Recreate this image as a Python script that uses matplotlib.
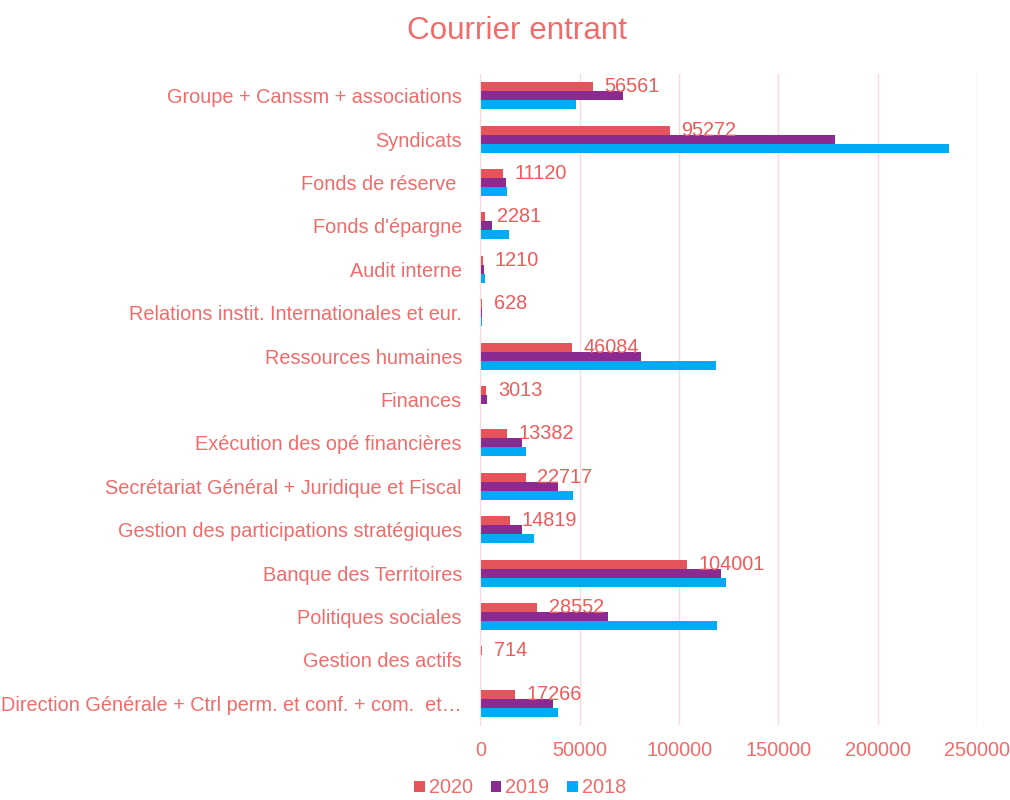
import numpy as np
import matplotlib
matplotlib.use("Agg")
import matplotlib.pyplot as plt

plt.rcParams['font.family'] = ['Liberation Sans', 'DejaVu Sans']

# Categories, top to bottom as shown
categories = [
    "Groupe + Canssm + associations",
    "Syndicats",
    "Fonds de réserve ",
    "Fonds d'épargne",
    "Audit interne",
    "Relations instit. Internationales et eur.",
    "Ressources humaines",
    "Finances",
    "Exécution des opé financières",
    "Secrétariat Général + Juridique et Fiscal",
    "Gestion des participations stratégiques",
    "Banque des Territoires",
    "Politiques sociales",
    "Gestion des actifs",
    "Direction Générale + Ctrl perm. et conf. + com.  et…",
]

vals_2020 = [56561, 95272, 11120, 2281, 1210, 628, 46084, 3013,
             13382, 22717, 14819, 104001, 28552, 714, 17266]
vals_2019 = [71900, 178700, 13000, 5900, 2000, 1000, 80700, 3200,
             20800, 39200, 21000, 121200, 64300, 0, 36700]
vals_2018 = [48300, 235800, 13200, 14200, 2200, 800, 118800, 0,
             22900, 46600, 26800, 123600, 119200, 0, 38900]

years = ["2020", "2019", "2018"]
colors = ["#E5535B", "#8B2A91", "#00AAF5"]
text_color = "#F26B6B"
grid_color = "#FBDADD"
fs = 14.3

fig = plt.figure(figsize=(10.1, 8), dpi=100)
ax = fig.add_axes([0.4757, 0.09375, 0.4916, 0.81375])

y = np.arange(len(categories))
h = 0.207
series = [vals_2020, vals_2019, vals_2018]
for i, (vals, col, lab) in enumerate(zip(series, colors, years)):
    ax.barh(y + (i - 1) * h, vals, height=h, color=col, label=lab)

# value labels for 2020
for yi, v in zip(y, vals_2020):
    ax.text(v + 6000, yi - h, str(v), va="center", ha="left",
            fontsize=fs, color="#F05A5A")

ax.set_xlim(0, 250000)
ax.set_ylim(len(categories) - 0.5, -0.5)
ax.set_xticks(np.arange(0, 250001, 50000))
ax.set_yticks(y)
ax.set_yticklabels(categories)
ax.tick_params(axis="both", length=0, labelsize=fs, colors=text_color)
ax.tick_params(axis="y", pad=13.3)
ax.tick_params(axis="x", pad=11.5)
ax.grid(axis="x", color=grid_color, linewidth=1)
ax.set_axisbelow(True)
for s in ["top", "right", "bottom"]:
    ax.spines[s].set_visible(False)
ax.spines["left"].set_color(grid_color)

fig.suptitle("Courrier entrant", fontsize=22.6, color=text_color, x=0.512, y=0.98)

leg = fig.legend(loc="lower center", bbox_to_anchor=(0.515, -0.019), ncol=3,
                 frameon=False, fontsize=fs, handlelength=0.55, handleheight=0.5,
                 handletextpad=0.2, columnspacing=0.9)
for t in leg.get_texts():
    t.set_color(text_color)

fig.savefig("out.png", dpi=100)
